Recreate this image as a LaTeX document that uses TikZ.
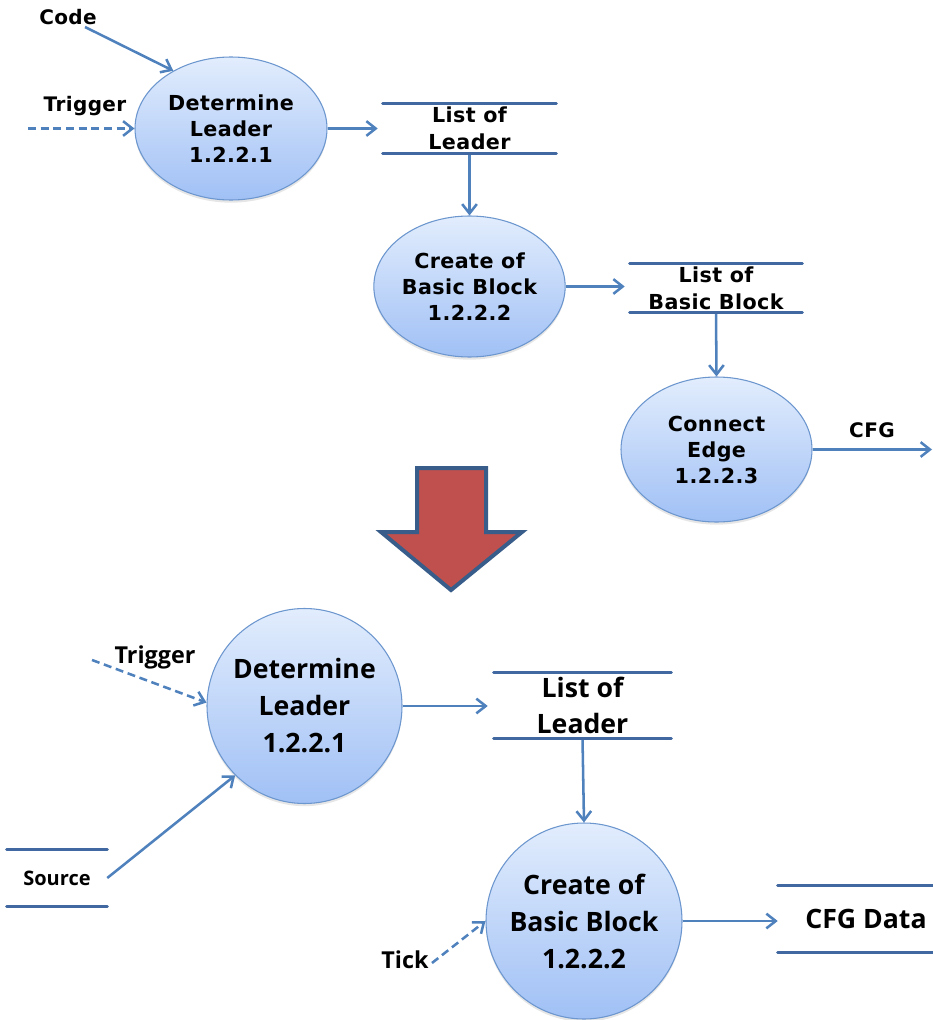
\documentclass[tikz,border=0pt]{standalone}
\usepackage{fontspec}
\setmainfont{Open Sans}
\newfontfamily\topfont{DejaVu Sans}[LetterSpace=2]
\newfontfamily\botfont{Open Sans}
\usetikzlibrary{arrows.meta,shapes.geometric,shadows}
\definecolor{flowc}{RGB}{79,129,189}
\definecolor{storec}{RGB}{65,104,160}
\definecolor{bubtop}{RGB}{226,237,253}
\definecolor{bubbot}{RGB}{160,192,245}
\definecolor{bubline}{RGB}{108,150,206}
\definecolor{arrfill}{RGB}{192,80,77}
\definecolor{arrline}{RGB}{56,93,138}
\tikzset{
  flow/.style={draw=flowc, line width=1.9pt, -{Straight Barb[length=7pt,width=11pt]}},
  dashflow/.style={flow, dash pattern=on 6pt off 3.5pt},
  bubble/.style={ellipse, draw=bubline, line width=0.8pt, top color=bubtop, bottom color=bubbot,
    inner sep=0pt, align=center,
    drop shadow={shadow xshift=0pt, shadow yshift=-2pt, opacity=0.2}},
  topbubble/.style={bubble, font=\topfont\bfseries\fontsize{15.5pt}{19.5pt}\selectfont},
  botbubble/.style={bubble, circle, font=\botfont\bfseries\fontsize{20pt}{27.75pt}\selectfont},
  store/.style={inner sep=0pt, align=center},
  topstore/.style={store, font=\topfont\bfseries\fontsize{15.5pt}{20pt}\selectfont},
  botstore/.style={store, font=\botfont\bfseries\fontsize{20pt}{27pt}\selectfont},
  storeline/.style={draw=storec, line width=2.4pt, line cap=round},
  toplabel/.style={font=\topfont\bfseries\fontsize{15pt}{18pt}\selectfont, inner sep=0pt},
  botlabel/.style={font=\botfont\bfseries\fontsize{17.5pt}{20pt}\selectfont, inner sep=0pt},
  bigarrow/.style={fill=arrfill, draw=arrline, line width=3pt, line join=miter},
}
\begin{document}
\begin{tikzpicture}[x=0.75pt, y=-0.75pt]
\useasboundingbox (0,0) rectangle (932,1020);

% ---------- top diagram ----------
\node[topbubble, minimum width=144pt, minimum height=107.25pt] (E1) at (231,128.5) {Determine\\Leader\\1.2.2.1};
\node[topbubble, minimum width=141.75pt, minimum height=105.75pt] (E2) at (469.5,286.5) {Create of\\Basic Block\\1.2.2.2};
\node[topbubble, minimum width=143.25pt, minimum height=108.75pt] (E3) at (716.5,449.5) {Connect\\Edge\\1.2.2.3};

\node[topstore, minimum width=129.75pt, minimum height=36.75pt] (S1) at (469.5,128.5) {List of\\Leader};
\node[topstore, minimum width=129pt, minimum height=36pt] (S2) at (716,288) {List of\\Basic Block};

\node[toplabel] (code) at (68,17) {Code};
\node[toplabel] (trig1) at (85,106) {Trigger};
\node[toplabel] (cfg) at (872,430) {CFG};

\coordinate (codeS) at (85,27);
\coordinate (trig1S) at (28,128.5);
\coordinate (cfgE) at (932,449.5);

\draw[flow] (codeS) -- (E1.135);
\draw[dashflow] (trig1S) -- (E1.west);
\draw[flow, shorten >=3.75pt] (E1.east) -- (E1.east -| S1.west);
\draw[flow] (S1.south) -- (E2.north);
\draw[flow, shorten >=3.75pt] (E2.east) -- (E2.east -| S2.west);
\draw[flow] (S2.south) -- (E3.north);
\draw[flow] (E3.east) -- (cfgE);

% ---------- big arrow ----------
\draw[bigarrow] (417,468) -- (486,468) -- (486,532) -- (522,532) -- (451,590) -- (381,532) -- (417,532) -- cycle;

% ---------- bottom diagram ----------
\node[botbubble, minimum size=146.25pt] (C4) at (304.5,706) {Determine\\Leader\\1.2.2.1};
\node[botbubble, minimum size=147pt] (C5) at (584,921) {Create of\\Basic Block\\1.2.2.2};

\node[botstore, minimum width=132.75pt, minimum height=48.75pt] (S3) at (582.5,705.5) {List of\\Leader};
\node[store, font=\botfont\bfseries\fontsize{15pt}{18pt}\selectfont, minimum width=75pt, minimum height=42pt] (src) at (57,878) {Source};
\node[botstore, minimum width=132pt, minimum height=49.5pt] (cfgd) at (866,919) {CFG Data};

\node[botlabel] (trig2) at (155,657) {Trigger};
\node[botlabel] (tick) at (405,960) {Tick};

\coordinate (trig2S) at (92,660);
\coordinate (tickS) at (432,963);

\draw[dashflow] (trig2S) -- (C4.178);
\draw[flow] (src.east) -- (C4.225);
\draw[flow, shorten >=4.5pt] (C4.east) -- (C4.east -| S3.west);
\draw[flow] (S3.south) -- (C5.north);
\draw[dashflow] (tickS) -- (C5.180);
\draw[flow] (C5.east) -- (C5.east -| cfgd.west);

\foreach \s in {S1,S2,S3,src,cfgd}
  \draw[storeline] (\s.north west) -- (\s.north east) (\s.south west) -- (\s.south east);
\end{tikzpicture}
\end{document}
